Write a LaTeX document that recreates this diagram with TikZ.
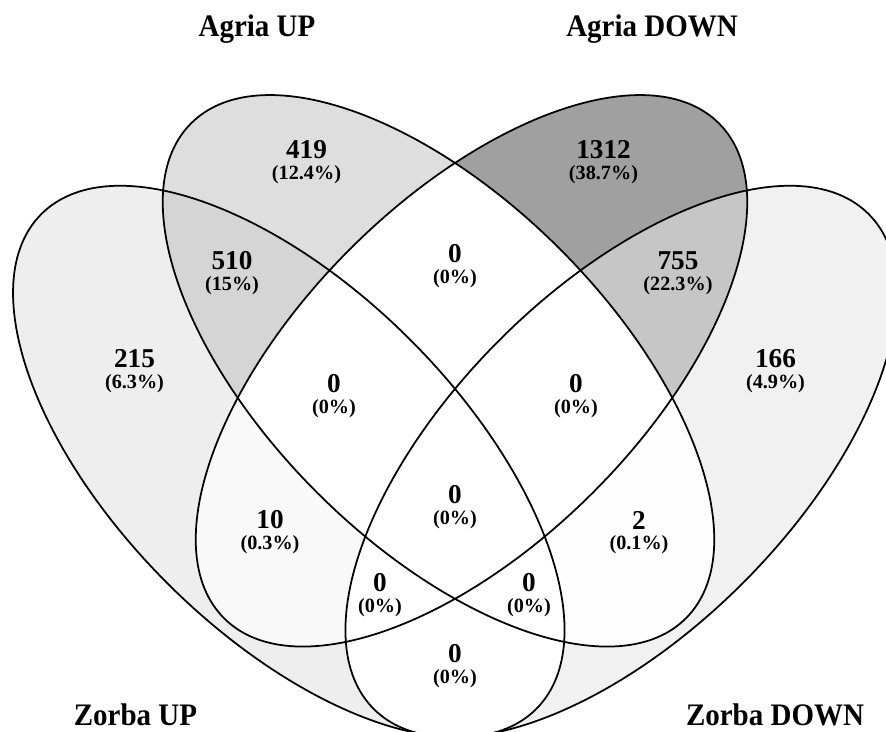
\documentclass[tikz,border=0pt]{standalone}
\usepackage{fontspec}
\setmainfont{Liberation Serif}
\definecolor{onlyZU}{HTML}{EEEEEE}
\definecolor{onlyZD}{HTML}{F1F1F1}
\definecolor{onlyAU}{HTML}{DEDEDE}
\definecolor{onlyAD}{HTML}{A0A0A0}
\definecolor{zuAU}{HTML}{D5D5D5}
\definecolor{adZD}{HTML}{C6C6C6}
\definecolor{zuAD}{HTML}{F9F9F9}
\definecolor{auZD}{HTML}{FDFDFD}
\tikzset{
	zorbaup/.style={shift={(288.8,461.5)}, rotate=-45},
	agriaup/.style={shift={(438.5,370.8)}, rotate=-45},
	agriadown/.style={shift={(471.5,370.8)}, rotate=45},
	zorbadown/.style={shift={(621.2,461.5)}, rotate=45},
	venn/.style={line width=1pt},
	num/.style={font=\fontsize{15.5}{18}\selectfont\bfseries, inner sep=0pt},
	pct/.style={font=\fontsize{11.5}{14}\selectfont\bfseries, inner sep=0pt},
	setname/.style={yscale=1.08, transform shape, font=\fontsize{16.5}{20}\selectfont\bfseries, anchor=base, inner sep=0pt}
}
\def\oval{(0,0) ellipse [x radius=7cm, y radius=3.44cm]}
\def\vcount(#1)(#2,#3)#4#5{\node[num] (#1) at (#2,#3) {#4}; \node[pct] (#1p) at (#2,#3+24.5) {(#5)};}

\begin{document}
\begin{tikzpicture}[x=0.02cm, y=-0.02cm]
		%%%%% START %%%%%
		\path[use as bounding box, fill=white] (0,0) rectangle (886,731);
		
		% single sets
		\fill[onlyZU, zorbaup] \oval;
		\fill[onlyZD, zorbadown] \oval;
		\fill[onlyAU, agriaup] \oval;
		\fill[onlyAD, agriadown] \oval;
		
		% pairs
		\begin{scope} \clip[zorbaup] \oval; \fill[zuAU, agriaup] \oval; \end{scope}
		\begin{scope} \clip[zorbadown] \oval; \fill[adZD, agriadown] \oval; \end{scope}
		\begin{scope} \clip[zorbaup] \oval; \fill[zuAD, agriadown] \oval; \end{scope}
		\begin{scope} \clip[agriaup] \oval; \fill[auZD, zorbadown] \oval; \end{scope}
		\begin{scope} \clip[agriaup] \oval; \fill[white, agriadown] \oval; \end{scope}
		\begin{scope} \clip[zorbaup] \oval; \fill[white, zorbadown] \oval; \end{scope}
		
		\draw[venn, zorbaup] \oval;
		\draw[venn, agriaup] \oval;
		\draw[venn, agriadown] \oval;
		\draw[venn, zorbadown] \oval;
		
		\vcount(au)(306.5,150){419}{12.4\%}
		\vcount(ad)(603.5,150){1312}{38.7\%}
		\vcount(zuau)(232,261){510}{15\%}
		\vcount(adzd)(678,261){755}{22.3\%}
		\vcount(auad)(455,254){0}{0\%}
		\vcount(zu)(134.5,359){215}{6.3\%}
		\vcount(zd)(775.5,359){166}{4.9\%}
		\vcount(zuauad)(334,384){0}{0\%}
		\vcount(auadzd)(576,384){0}{0\%}
		\vcount(all)(455,495){0}{0\%}
		\vcount(zuad)(270,520){10}{0.3\%}
		\vcount(auzd)(639,520){2}{0.1\%}
		\vcount(zuadzd)(380,583){0}{0\%}
		\vcount(zuauzd)(529,583){0}{0\%}
		\vcount(zuzd)(455,654){0}{0\%}
		
		\node[setname] (agriaupname) at (257,36) {Agria UP};
		\node[setname] (agriadownname) at (652,36) {Agria DOWN};
		\node[setname] (zorbaupname) at (135.5,725) {Zorba UP};
		\node[setname] (zorbadownname) at (775,725) {Zorba DOWN};
		%%%%% END %%%%%
\end{tikzpicture}
\end{document}
